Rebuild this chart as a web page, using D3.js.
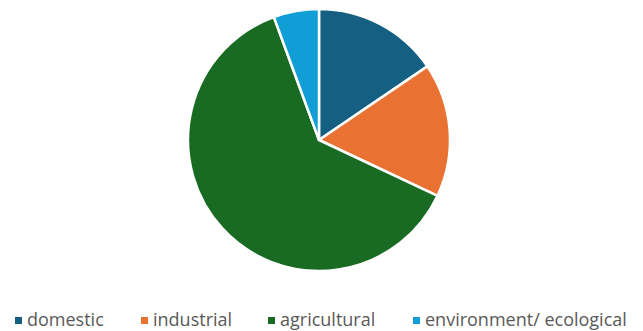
<!DOCTYPE html>
<html>
<head>
<meta charset="utf-8">
<script src="https://cdn.jsdelivr.net/npm/d3@7"></script>
<style>
  body { margin: 0; background: #fff; }
  #chart text { font-family: "Open Sans", sans-serif; }
</style>
</head>
<body>
<div id="chart"></div>
<script>
var categories = ["domestic", "industrial", "agricultural", "environment/ ecological"];
var shares = [15.5, 16.5, 62.4, 5.6];
var colors = ["#156082", "#E97132", "#196B24", "#0F9ED5"];

var width = 643, height = 331,
    cx = 319, cy = 140, radius = 131;

var data = categories.map(function(c, i) {
  return { name: c, value: shares[i], color: colors[i] };
});

var svg = d3.select("#chart").append("svg")
  .attr("width", width)
  .attr("height", height);

var pie = d3.pie()
  .sort(null)
  .value(function(d) { return d.value; });

var arc = d3.arc().innerRadius(0).outerRadius(radius);

svg.append("g")
  .attr("transform", "translate(" + cx + "," + cy + ")")
  .selectAll("path")
  .data(pie(data))
  .enter()
  .append("path")
  .attr("d", arc)
  .style("fill", function(d) { return d.data.color; })
  .style("stroke", "#fff")
  .style("stroke-width", 2.5)
  .style("stroke-linejoin", "round");

// legend
var legendX = [15, 141, 268, 413];
var legend = svg.append("g").attr("class", "legend");

var item = legend.selectAll("g")
  .data(data)
  .enter()
  .append("g")
  .attr("transform", function(d, i) { return "translate(" + legendX[i] + ",320)"; });

item.append("rect")
  .attr("x", 0)
  .attr("y", -3)
  .attr("width", 7)
  .attr("height", 7)
  .style("fill", function(d) { return d.color; });

item.append("text")
  .attr("x", 12)
  .attr("y", 6)
  .style("font-size", "18px")
  .style("fill", "#595959")
  .text(function(d) { return d.name; });
</script>
</body>
</html>
